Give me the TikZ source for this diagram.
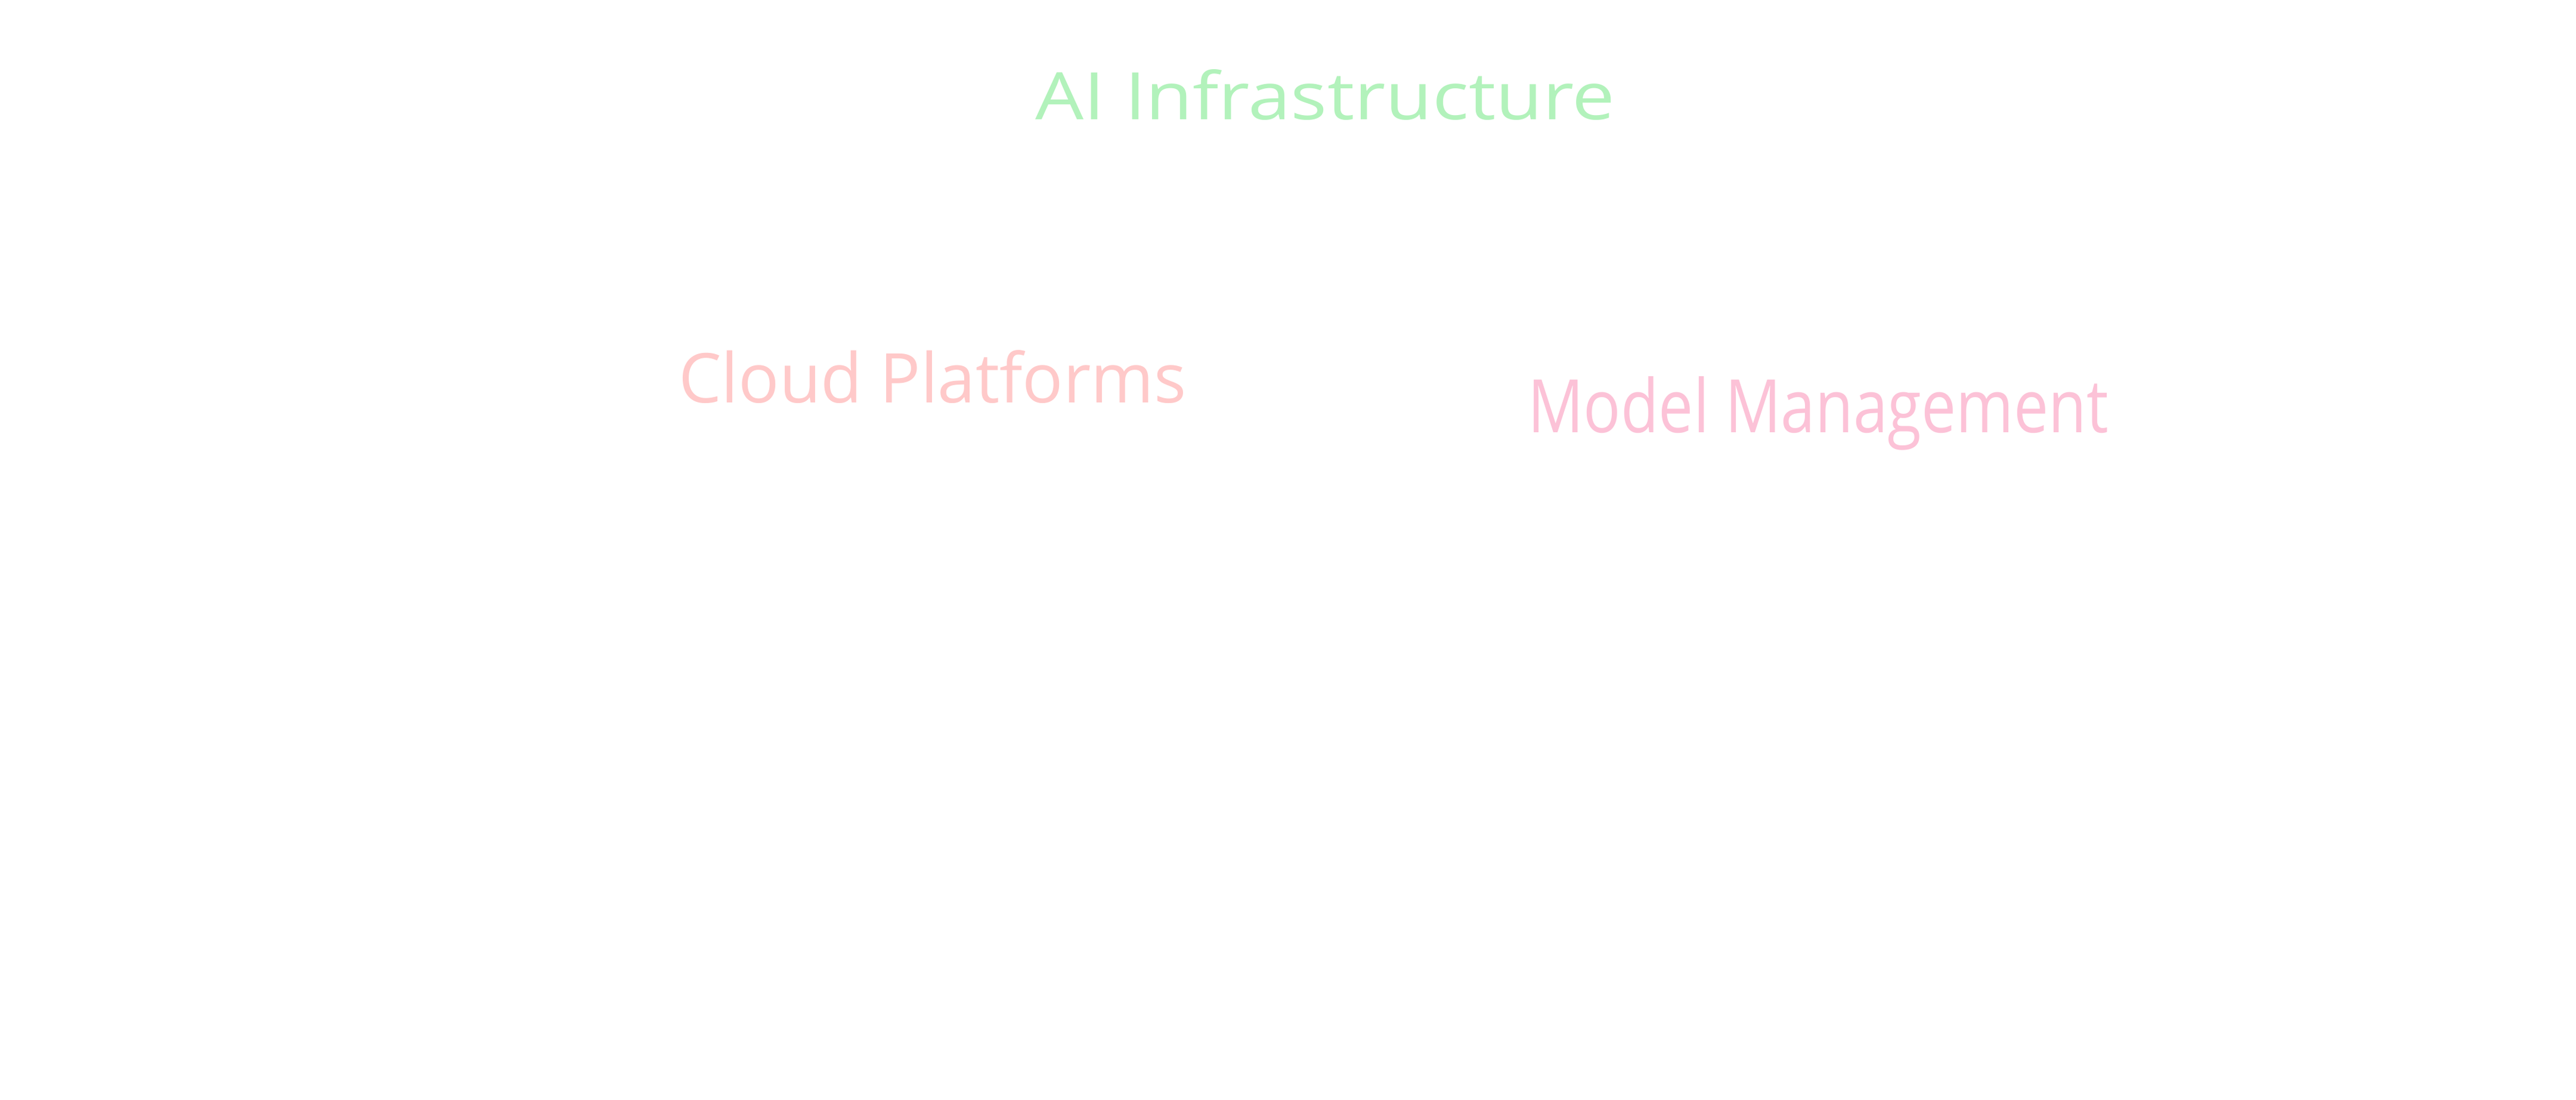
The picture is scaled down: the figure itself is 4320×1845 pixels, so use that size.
\documentclass[tikz,border=0pt]{standalone}
\usepackage{fontspec}
\setmainfont{Open Sans}
\usepackage{graphicx}
\definecolor{titlegreen}{HTML}{B2F2BB}
\definecolor{cloudred}{HTML}{FFC9C9}
\definecolor{modelpink}{HTML}{FCC2D7}
\tikzset{
  label/.style={inner sep=0pt, outer sep=0pt, anchor=base west, font=\fontsize{30}{36}\selectfont}
}
\begin{document}
\begin{tikzpicture}[x=0.01cm,y=-0.01cm]
\fill[white] (0,0) rectangle (4320,1845);
\useasboundingbox (0,0) rectangle (4320,1845);
\node[label, text=titlegreen] (title) at (1736,200) {\resizebox{9.72cm}{0.84cm}{AI Infrastructure}};
\node[label, text=cloudred] (cloud) at (1138,675) {\resizebox{8.51cm}{0.88cm}{Cloud Platforms}};
\node[label, text=modelpink] (model) at (2562,725) {\resizebox{9.73cm}{0.94cm}{Model Management}};
\end{tikzpicture}
\end{document}
